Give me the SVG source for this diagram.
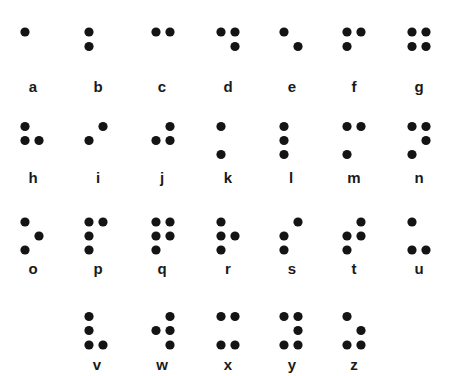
<svg xmlns="http://www.w3.org/2000/svg" width="453" height="376" viewBox="0 0 453 376">
<style>
.d{fill:#141414}
.l{font-family:"Liberation Sans",Arial,sans-serif;font-weight:bold;font-size:15px;fill:#1a1a1a;text-anchor:middle}
</style>
<rect width="453" height="376" fill="#ffffff"/>
<g id="connectors"></g>
<g id="a"><circle class="d" cx="25" cy="32" r="4.6"/><text class="l" x="33" y="92">a</text></g>
<g id="b"><circle class="d" cx="89" cy="32" r="4.6"/><circle class="d" cx="89" cy="46.5" r="4.6"/><text class="l" x="98" y="92">b</text></g>
<g id="c"><circle class="d" cx="156" cy="32" r="4.6"/><circle class="d" cx="170" cy="32" r="4.6"/><text class="l" x="162" y="92">c</text></g>
<g id="d"><circle class="d" cx="221" cy="32" r="4.6"/><circle class="d" cx="235" cy="32" r="4.6"/><circle class="d" cx="235" cy="46.5" r="4.6"/><text class="l" x="228" y="92">d</text></g>
<g id="e"><circle class="d" cx="284" cy="32" r="4.6"/><circle class="d" cx="298" cy="46.5" r="4.6"/><text class="l" x="292" y="92">e</text></g>
<g id="f"><circle class="d" cx="347" cy="32" r="4.6"/><circle class="d" cx="361" cy="32" r="4.6"/><circle class="d" cx="347" cy="46.5" r="4.6"/><text class="l" x="354" y="92">f</text></g>
<g id="g"><circle class="d" cx="412" cy="32" r="4.6"/><circle class="d" cx="426" cy="32" r="4.6"/><circle class="d" cx="412" cy="46.5" r="4.6"/><circle class="d" cx="426" cy="46.5" r="4.6"/><text class="l" x="419" y="92">g</text></g>
<g id="h"><circle class="d" cx="25" cy="126.5" r="4.6"/><circle class="d" cx="25" cy="140.5" r="4.6"/><circle class="d" cx="39" cy="140.5" r="4.6"/><text class="l" x="33" y="183">h</text></g>
<g id="i"><circle class="d" cx="103" cy="126.5" r="4.6"/><circle class="d" cx="89" cy="140.5" r="4.6"/><text class="l" x="98" y="183">i</text></g>
<g id="j"><circle class="d" cx="170" cy="126.5" r="4.6"/><circle class="d" cx="156" cy="140.5" r="4.6"/><circle class="d" cx="170" cy="140.5" r="4.6"/><text class="l" x="162" y="183">j</text></g>
<g id="k"><circle class="d" cx="221" cy="126.5" r="4.6"/><circle class="d" cx="221" cy="154.5" r="4.6"/><text class="l" x="228" y="183">k</text></g>
<g id="l"><circle class="d" cx="284" cy="126.5" r="4.6"/><circle class="d" cx="284" cy="140.5" r="4.6"/><circle class="d" cx="284" cy="154.5" r="4.6"/><text class="l" x="291" y="183">l</text></g>
<g id="m"><circle class="d" cx="347" cy="126.5" r="4.6"/><circle class="d" cx="361" cy="126.5" r="4.6"/><circle class="d" cx="347" cy="154.5" r="4.6"/><text class="l" x="354" y="183">m</text></g>
<g id="n"><circle class="d" cx="412" cy="126.5" r="4.6"/><circle class="d" cx="426" cy="126.5" r="4.6"/><circle class="d" cx="426" cy="140.5" r="4.6"/><circle class="d" cx="412" cy="154.5" r="4.6"/><text class="l" x="419" y="183">n</text></g>
<g id="o"><circle class="d" cx="25" cy="222" r="4.6"/><circle class="d" cx="39" cy="236" r="4.6"/><circle class="d" cx="25" cy="250" r="4.6"/><text class="l" x="33" y="273.5">o</text></g>
<g id="p"><circle class="d" cx="89" cy="222" r="4.6"/><circle class="d" cx="103" cy="222" r="4.6"/><circle class="d" cx="89" cy="236" r="4.6"/><circle class="d" cx="89" cy="250" r="4.6"/><text class="l" x="98" y="273.5">p</text></g>
<g id="q"><circle class="d" cx="156" cy="222" r="4.6"/><circle class="d" cx="170" cy="222" r="4.6"/><circle class="d" cx="156" cy="236" r="4.6"/><circle class="d" cx="170" cy="236" r="4.6"/><circle class="d" cx="156" cy="250" r="4.6"/><text class="l" x="162" y="273.5">q</text></g>
<g id="r"><circle class="d" cx="221" cy="222" r="4.6"/><circle class="d" cx="221" cy="236" r="4.6"/><circle class="d" cx="235" cy="236" r="4.6"/><circle class="d" cx="221" cy="250" r="4.6"/><text class="l" x="228" y="273.5">r</text></g>
<g id="s"><circle class="d" cx="298" cy="222" r="4.6"/><circle class="d" cx="284" cy="236" r="4.6"/><circle class="d" cx="284" cy="250" r="4.6"/><text class="l" x="292" y="273.5">s</text></g>
<g id="t"><circle class="d" cx="361" cy="222" r="4.6"/><circle class="d" cx="347" cy="236" r="4.6"/><circle class="d" cx="361" cy="236" r="4.6"/><circle class="d" cx="347" cy="250" r="4.6"/><text class="l" x="354" y="273.5">t</text></g>
<g id="u"><circle class="d" cx="412" cy="222" r="4.6"/><circle class="d" cx="412" cy="250" r="4.6"/><circle class="d" cx="426" cy="250" r="4.6"/><text class="l" x="419" y="273.5">u</text></g>
<g id="v"><circle class="d" cx="89" cy="316.5" r="4.6"/><circle class="d" cx="89" cy="330.5" r="4.6"/><circle class="d" cx="89" cy="345" r="4.6"/><circle class="d" cx="103" cy="345" r="4.6"/><text class="l" x="97" y="370">v</text></g>
<g id="w"><circle class="d" cx="170" cy="316.5" r="4.6"/><circle class="d" cx="156" cy="330.5" r="4.6"/><circle class="d" cx="170" cy="330.5" r="4.6"/><circle class="d" cx="170" cy="345" r="4.6"/><text class="l" x="162" y="370">w</text></g>
<g id="x"><circle class="d" cx="221" cy="316.5" r="4.6"/><circle class="d" cx="235" cy="316.5" r="4.6"/><circle class="d" cx="221" cy="345" r="4.6"/><circle class="d" cx="235" cy="345" r="4.6"/><text class="l" x="228" y="370">x</text></g>
<g id="y"><circle class="d" cx="284" cy="316.5" r="4.6"/><circle class="d" cx="298" cy="316.5" r="4.6"/><circle class="d" cx="298" cy="330.5" r="4.6"/><circle class="d" cx="284" cy="345" r="4.6"/><circle class="d" cx="298" cy="345" r="4.6"/><text class="l" x="292" y="370">y</text></g>
<g id="z"><circle class="d" cx="347" cy="316.5" r="4.6"/><circle class="d" cx="361" cy="330.5" r="4.6"/><circle class="d" cx="347" cy="345" r="4.6"/><circle class="d" cx="361" cy="345" r="4.6"/><text class="l" x="354" y="370">z</text></g>
</svg>
